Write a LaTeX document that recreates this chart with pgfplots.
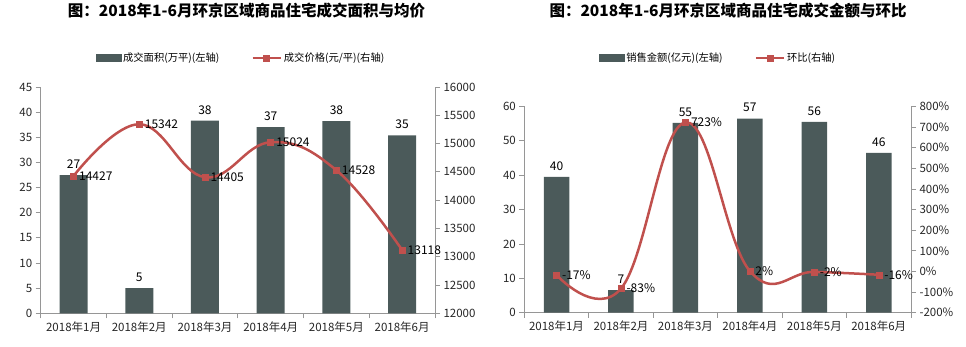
\documentclass[border=0pt]{standalone}
\usepackage{fontspec}
\setmainfont{Noto Sans CJK SC}
\usepackage{pgfplots}
\pgfplotsset{compat=1.18}
\definecolor{barc}{RGB}{75,90,90}
\definecolor{linec}{RGB}{192,80,77}
\definecolor{axc}{RGB}{150,150,150}
\newcommand{\tf}{\fontsize{11.5bp}{13bp}\selectfont}
\newcommand{\df}{\fontsize{12bp}{14bp}\selectfont}
\newcommand{\lf}{\fontsize{10.3bp}{12bp}\selectfont}
\newcommand{\ttf}{\fontsize{15.5bp}{17bp}\selectfont\bfseries}
\pgfplotsset{
  base/.style={scale only axis, anchor=south west, xmin=-0.5, xmax=5.5,
    tick align=outside, major tick length=5bp,
    axis line style={axc, line width=0.8bp}, tick style={axc, line width=0.8bp},
    tick label style={font=\tf, text=black!85},
    scaled y ticks=false,
    /pgf/number format/assume math mode=true,
    /pgf/number format/1000 sep={},
  },
  barax/.style={base, axis y line*=left, axis x line*=bottom,
    xtick={-0.5,0.5,1.5,2.5,3.5,4.5,5.5}, x tick label as interval,
    xticklabels={2018年1月,2018年2月,2018年3月,2018年4月,2018年5月,2018年6月},
    ybar, nodes near coords, point meta=explicit symbolic,
    every node near coord/.append style={font=\df, text=black, yshift=3bp},
  },
  lineax/.style={base, axis y line*=right, axis x line=none, clip=false,
    legend style={anchor=center, draw=none, fill=none, font=\lf, legend columns=2,
      /tikz/every even column/.append style={column sep=30bp}},
    title style={anchor=center, font=\ttf},
  },
  lineplot/.style={linec, line width=2.5bp, smooth, tension=0.7, mark=square*, mark size=3bp,
    mark options={fill=linec, draw=linec, line width=0.5bp},
    nodes near coords, point meta=explicit symbolic,
    every node near coord/.append style={anchor=west, font=\df, text=black, xshift=2bp},
    legend image code/.code={\draw[mark repeat=2,mark phase=2,##1] plot coordinates {(0bp,0bp) (14bp,0bp) (28bp,0bp)};}
  },
}
\begin{document}
\begin{tikzpicture}
\path[use as bounding box] (0,0) rectangle (966bp,347bp);
% ---------- left panel ----------
\begin{axis}[barax, at={(40.7bp,33.7bp)}, width=394.3bp, height=226.3bp,
  ymin=0, ymax=45, ytick={0,5,...,45}, bar width=28bp]
\addplot[fill=barc, draw=none] coordinates {(0,27.5) [27] (1,5.0) [5] (2,38.3) [38] (3,37.0) [37] (4,38.2) [38] (5,35.4) [35]};
\end{axis}
\begin{axis}[lineax, at={(40.7bp,33.7bp)}, width=394.3bp, height=226.3bp,
  ymin=12000, ymax=16000, ytick={12000,12500,...,16000},
  legend style={at={(0.508,1.128)}},
  title={图：2018年1-6月环京区域商品住宅成交面积与均价},
  title style={at={(0.522,1.309)}}]
\addlegendimage{legend image code/.code={\fill[barc] (0bp,-3.5bp) rectangle (25bp,3.5bp);}}
\addlegendentry{成交面积(万平)(左轴)}
\addplot[lineplot] coordinates {(0,14427) [14427] (1,15342) [15342] (2,14405) [14405] (3,15024) [15024] (4,14528) [14528] (5,13118) [13118]};
\addlegendentry{成交价格(元/平)(右轴)}
\end{axis}
% ---------- right panel ----------
\begin{axis}[barax, at={(524.3bp,34.3bp)}, width=386.7bp, height=206.2bp,
  ymin=0, ymax=60, ytick={0,10,...,60}, bar width=25.5bp]
\addplot[fill=barc, draw=none] coordinates {(0,39.5) [40] (1,6.6) [7] (2,55.2) [55] (3,56.5) [57] (4,55.5) [56] (5,46.5) [46]};
\end{axis}
\begin{axis}[lineax, at={(524.3bp,34.3bp)}, width=386.7bp, height=206.2bp,
  ymin=-200, ymax=800, ytick={-200,-100,...,800},
  yticklabel={\pgfmathprintnumber{\tick}\%},
  legend style={at={(0.501,1.235)}},
  title={图：2018年1-6月环京区域商品住宅成交金额与环比},
  title style={at={(0.527,1.434)}}]
\addlegendimage{legend image code/.code={\fill[barc] (0bp,-3.5bp) rectangle (25bp,3.5bp);}}
\addlegendentry{销售金额(亿元)(左轴)}
\addplot[lineplot] coordinates {(0,-17) [-17\%] (1,-83) [-83\%] (2,723) [723\%] (3,2) [2\%] (4,-2) [-2\%] (5,-16) [-16\%]};
\addlegendentry{环比(右轴)}
\end{axis}
\end{tikzpicture}
\end{document}
